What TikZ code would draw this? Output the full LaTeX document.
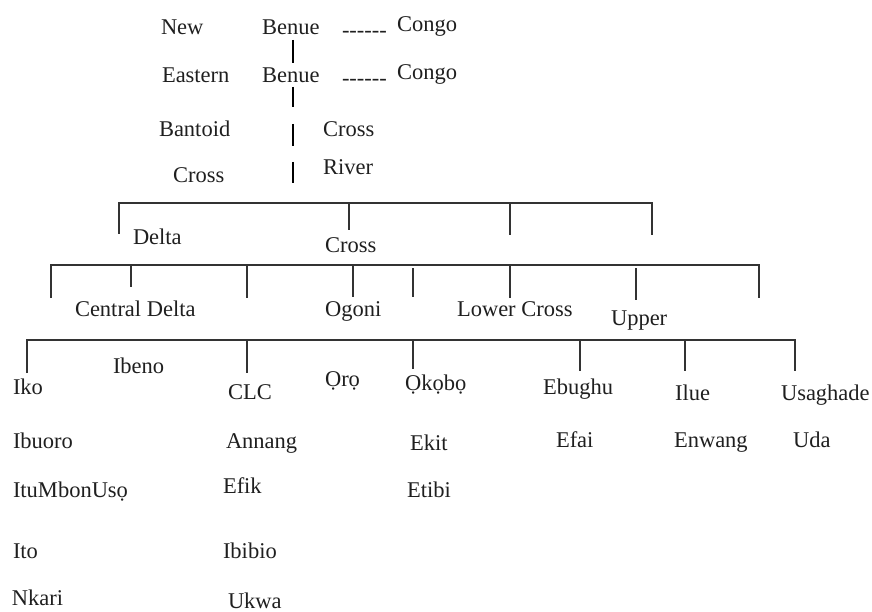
\documentclass[tikz,border=0pt]{standalone}
\usepackage{fontspec}
\setmainfont{Liberation Serif}
\begin{document}
\begin{tikzpicture}[x=1pt,y=-1pt,
  lbl/.style={anchor=base west,inner sep=0pt,outer sep=0pt,text=black!88,font=\fontsize{22.5}{27}\selectfont},
  br/.style={draw=black!80,line width=1.3pt},
  bar/.style={draw=black,line width=2.6pt}]
\useasboundingbox (0,0) rectangle (872,612);
% top part
\node[lbl] (new) at (161,35) {New};
\node[lbl] (benue1) at (262,35) {Benue};
\node[lbl] (dash1) at (342,38) {{-}{-}{-}{-}{-}{-}};
\node[lbl] (congo1) at (397,32) {Congo};
\node[lbl] (eastern) at (162,83) {Eastern};
\node[lbl] (benue2) at (262,83) {Benue};
\node[lbl] (dash2) at (342,86) {{-}{-}{-}{-}{-}{-}};
\node[lbl] (congo2) at (397,80) {Congo};
\node[lbl] (bantoid) at (159,137) {Bantoid};
\node[lbl] (crossA) at (323,137) {Cross};
\node[lbl] (crossL) at (173,183) {Cross};
\node[lbl] (river) at (323,175) {River};
\draw[bar] (293,40) -- (293,63);
\draw[bar] (293,87) -- (293,107);
\draw[bar] (293,124) -- (293,146);
\draw[bar] (293,162) -- (293,183);
% level 2
\draw[br] (119,234) -- (119,203) -- (652,203) -- (652,235);
\draw[br] (349,203) -- (349,230);
\draw[br] (510,203) -- (510,235);
\node[lbl] (delta) at (133,245) {Delta};
\node[lbl] (cross2) at (325,252) {Cross};
% level 3
\draw[br] (51,298) -- (51,265) -- (759,265) -- (759,298);
\draw[br] (131,265) -- (131,287);
\draw[br] (247,265) -- (247,298);
\draw[br] (353,265) -- (353,297);
\draw[br] (413,268) -- (413,297);
\draw[br] (510,265) -- (510,298);
\draw[br] (636,268) -- (636,300);
\node[lbl] (central) at (75,316) {Central Delta};
\node[lbl] (ogoni) at (325,316) {Ogoni};
\node[lbl] (lower) at (457,316) {Lower Cross};
\node[lbl] (upper) at (611,325) {Upper};
% level 4
\draw[br] (27,373) -- (27,340) -- (795,340) -- (795,371);
\draw[br] (247,340) -- (247,373);
\draw[br] (413,340) -- (413,369);
\draw[br] (580,340) -- (580,371);
\draw[br] (685,340) -- (685,371);
\node[lbl] (iko) at (13,394) {Iko};
\node[lbl] (ibeno) at (113,373) {Ibeno};
\node[lbl] (clc) at (228,399) {CLC};
\node[lbl] (oro) at (325,386) {Ọrọ};
\node[lbl] (okobo) at (405,390) {Ọkọbọ};
\node[lbl] (ebughu) at (543,394) {Ebughu};
\node[lbl] (ilue) at (675,400) {Ilue};
\node[lbl] (usaghade) at (781,400) {Usaghade};
\node[lbl] (ibuoro) at (13,448) {Ibuoro};
\node[lbl] (annang) at (226,448) {Annang};
\node[lbl] (ekit) at (410,450) {Ekit};
\node[lbl] (efai) at (556,447) {Efai};
\node[lbl] (enwang) at (674,447) {Enwang};
\node[lbl] (uda) at (793,447) {Uda};
\node[lbl] (itu) at (13,497) {ItuMbonUsọ};
\node[lbl] (efik) at (223,493) {Efik};
\node[lbl] (etibi) at (407,497) {Etibi};
\node[lbl] (ito) at (13,558) {Ito};
\node[lbl] (ibibio) at (223,558) {Ibibio};
\node[lbl] (nkari) at (12,605) {Nkari};
\node[lbl] (ukwa) at (228,608) {Ukwa};
\end{tikzpicture}
\end{document}
